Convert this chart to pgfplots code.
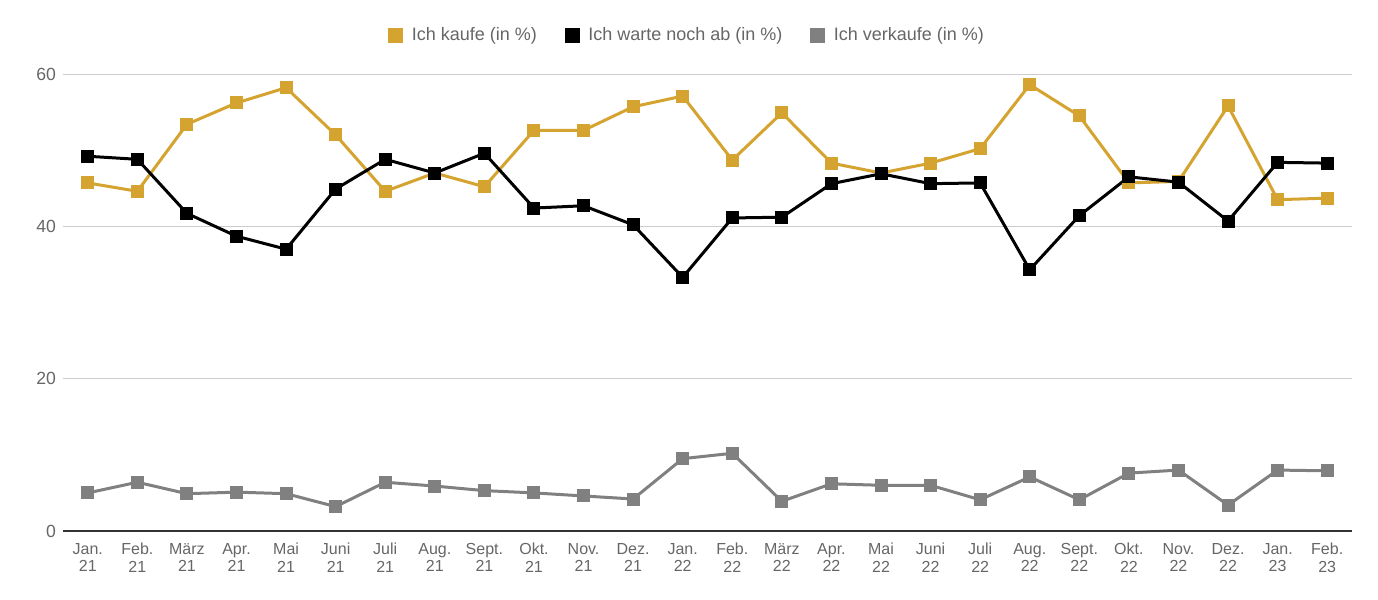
\documentclass[border=0pt]{standalone}
\usepackage{pgfplots}
\pgfplotsset{compat=1.18}
\usepackage{fontspec}
\setmainfont{Liberation Sans}
\definecolor{gold}{RGB}{212,163,48}
\definecolor{sgray}{RGB}{128,128,128}
\definecolor{txt}{RGB}{102,102,102}
\begin{document}
\begin{tikzpicture}
\path[use as bounding box] (-31.5pt,-34.5pt) rectangle (657.5pt,265.5pt);
\begin{axis}[
  at={(0,0)}, anchor=south west,
  width=644.5pt, height=228.5pt, scale only axis,
  xmin=-0.5, xmax=25.5, ymin=0, ymax=60,
  xtick={0,...,25},
  xticklabels={{Jan.\\21},{Feb.\\21},{März\\21},{Apr.\\21},{Mai\\21},{Juni\\21},{Juli\\21},{Aug.\\21},{Sept.\\21},{Okt.\\21},{Nov.\\21},{Dez.\\21},{Jan.\\22},{Feb.\\22},{März\\22},{Apr.\\22},{Mai\\22},{Juni\\22},{Juli\\22},{Aug.\\22},{Sept.\\22},{Okt.\\22},{Nov.\\22},{Dez.\\22},{Jan.\\23},{Feb.\\23}},
  xticklabel style={align=center, font=\fontsize{8pt}{8.6pt}\selectfont, text=txt, inner sep=1pt, yshift=-5pt},
  ytick={0,20,40,60},
  yticklabel style={font=\fontsize{8.8pt}{10pt}\selectfont, text=txt},
  /pgf/number format/assume math mode=true,
  major tick length=0pt,
  axis x line*=bottom,
  axis y line*=left,
  x axis line style={draw=black!80, line width=0.6pt, -},
  y axis line style={draw=none},
  ymajorgrids, grid style={draw=black!20, line width=0.5pt},
  clip=false,
  legend columns=3,
  legend style={at={(0.485,1.085)}, anchor=center, draw=none, fill=none,
    font=\fontsize{9pt}{10pt}\selectfont, text=txt,
    /tikz/every even column/.append style={column sep=12pt}},
  legend image code/.code={\fill[#1] (0pt,-3pt) rectangle (6pt,3pt); \path[draw=none,fill=none] (0pt,0pt) -- (9pt,0pt);},
  every axis plot/.append style={line width=1.5pt, mark=square*, mark size=2.5pt},
]
\addplot[color=gold, mark options={fill=gold, draw=gold}] coordinates {
(0,45.7)(1,44.6)(2,53.4)(3,56.2)(4,58.2)(5,52.0)(6,44.6)(7,47.0)(8,45.2)(9,52.6)(10,52.6)(11,55.7)(12,57.1)(13,48.7)(14,54.9)(15,48.3)(16,47.0)(17,48.3)(18,50.2)(19,58.6)(20,54.5)(21,45.7)(22,45.9)(23,55.8)(24,43.5)(25,43.7)};
\addlegendentry{Ich kaufe (in \%)}
\addplot[color=black, mark options={fill=black, draw=black}] coordinates {
(0,49.2)(1,48.8)(2,41.7)(3,38.7)(4,37.0)(5,44.9)(6,48.8)(7,47.0)(8,49.6)(9,42.4)(10,42.7)(11,40.2)(12,33.3)(13,41.1)(14,41.2)(15,45.6)(16,46.9)(17,45.6)(18,45.7)(19,34.3)(20,41.4)(21,46.5)(22,45.8)(23,40.7)(24,48.4)(25,48.3)};
\addlegendentry{Ich warte noch ab (in \%)}
\addplot[color=sgray, mark options={fill=sgray, draw=sgray}] coordinates {
(0,5.0)(1,6.4)(2,4.9)(3,5.1)(4,4.9)(5,3.2)(6,6.4)(7,5.9)(8,5.3)(9,5.0)(10,4.6)(11,4.2)(12,9.5)(13,10.2)(14,3.9)(15,6.2)(16,6.0)(17,6.0)(18,4.1)(19,7.1)(20,4.1)(21,7.6)(22,8.0)(23,3.4)(24,8.0)(25,7.9)};
\addlegendentry{Ich verkaufe (in \%)}
\end{axis}
\end{tikzpicture}
\end{document}
